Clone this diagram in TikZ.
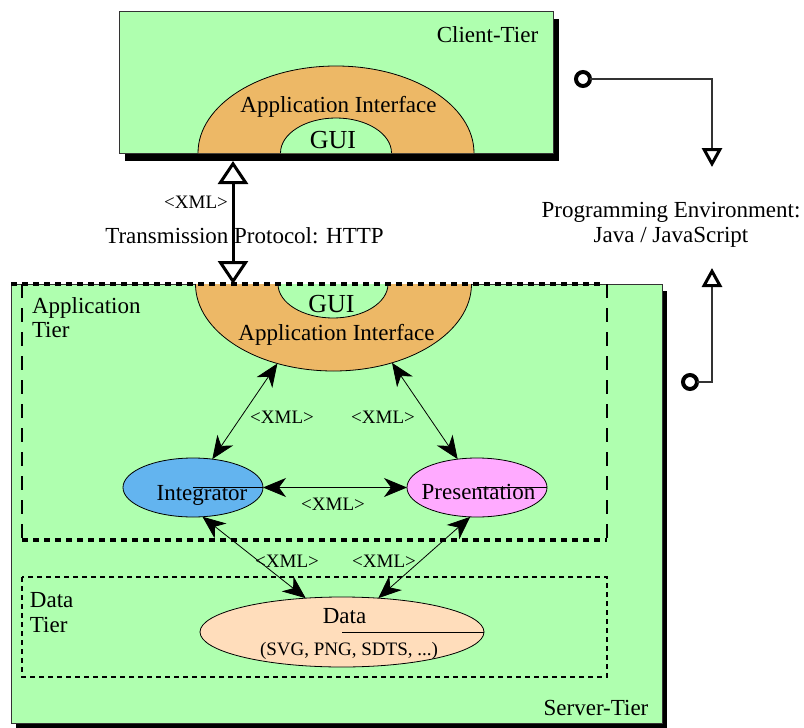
\documentclass[tikz,border=0pt]{standalone}
\usepackage{fontspec}
\setmainfont{Liberation Serif}
\usetikzlibrary{arrows.meta,shapes.geometric}
\definecolor{tiergreen}{HTML}{AFFFAF}
\definecolor{apporange}{HTML}{EDB866}
\definecolor{integblue}{HTML}{63B4EF}
\definecolor{prespink}{HTML}{FFAAFF}
\definecolor{datapeach}{HTML}{FFDDBB}
\definecolor{edgegray}{HTML}{333333}

\begin{document}
\begin{tikzpicture}[x=1pt,y=1pt,
  every node/.style={inner sep=0pt, outer sep=0pt},
  big/.style={font=\fontsize{23}{25}\selectfont},
  gui/.style={font=\fontsize{26}{28}\selectfont},
  small/.style={font=\fontsize{19}{22}\selectfont},
  tierbox/.style={rectangle, draw=edgegray, line width=0.8pt, fill=tiergreen, anchor=north west},
  blob/.style={ellipse, draw=black, line width=0.8pt},
  halfshape/.style={draw=black, line width=0.8pt},
  xmlflow/.style={line width=0.8pt, {Stealth[length=23pt,width=19pt,inset=7pt]}-{Stealth[length=23pt,width=19pt,inset=7pt]}},
  thickdash/.style={line width=3.5pt, dash pattern=on 6pt off 5pt},
  sidedash/.style={line width=1.6pt, dash pattern=on 14pt off 10pt},
  thindash/.style={line width=1.2pt, dash pattern=on 5pt off 4pt},
  port/.style={circle, draw=black, fill=white, line width=4pt, minimum size=14pt},
  envlink/.style={draw=edgegray, line width=1.1pt, -{Triangle[fill=white, color=black, line width=3pt, length=19pt, width=20pt]}},
  httplink/.style={line width=3pt, {Triangle[fill=white,length=23pt,width=30pt]}-{Triangle[fill=white,length=23pt,width=30pt]}},
]
\useasboundingbox (0,0) rectangle (804,-728);

% ---------------- client tier ----------------
\fill[black] (125,-19) rectangle (559,-161);
\node[tierbox, minimum width=434pt, minimum height=142pt] (client) at (119,-11) {};
\path[halfshape, fill=apporange] (474,-153) arc[start angle=0, end angle=180, x radius=138pt, y radius=87pt];
\path[halfshape, fill=tiergreen] (391.5,-153) arc[start angle=0, end angle=180, x radius=55.5pt, y radius=35pt];
\node[big, anchor=base] at (487.5,-42) {Client-Tier};
\node[big, anchor=base] at (338.5,-112) {Application Interface};
\node[gui, anchor=base] at (333,-148) {GUI};

% ---------------- server tier ----------------
\fill[black] (16,-291) rectangle (667,-728);
\node[tierbox, minimum width=651pt, minimum height=439pt] (server) at (11,-284) {};
\path[halfshape, fill=apporange] (471.5,-284) arc[start angle=0, end angle=-180, x radius=138pt, y radius=87pt];
\path[halfshape, fill=tiergreen] (388,-284) arc[start angle=0, end angle=-180, x radius=55pt, y radius=34pt];
\node[gui, anchor=base] at (331.5,-312) {GUI};
\node[big, anchor=base] at (336.5,-340) {Application Interface};

% application tier frame
\draw[thickdash] (11,-284) -- (604,-284);
\draw[sidedash] (22,-284) -- (22,-540);
\draw[sidedash] (607,-284) -- (607,-540);
\draw[thickdash] (22,-540) -- (607,-540);
\node[big, anchor=base west] at (32,-313) {Application};
\node[big, anchor=base west] at (32,-337) {Tier};

% data tier frame
\draw[thindash] (22,-577) rectangle (607,-677);
\node[big, anchor=base west] at (30,-607) {Data};
\node[big, anchor=base west] at (30,-632) {Tier};

\node[big, anchor=base] at (596,-715) {Server-Tier};

% ---------------- components ----------------
\node[blob, fill=integblue, minimum width=140pt, minimum height=59pt] (integ) at (193,-487.5) {};
\node[blob, fill=prespink, minimum width=140pt, minimum height=59pt] (pres) at (477,-487.5) {};
\node[blob, fill=datapeach, minimum width=284pt, minimum height=70pt] (data) at (342,-632) {};
\draw[line width=0.8pt] (integ.center) -- (integ.east);
\draw[line width=0.8pt] (pres.center) -- (pres.east);
\draw[line width=0.8pt] (data.center) -- (data.east);
\node[big, anchor=base] at (202,-500) {Integrator};
\node[big, anchor=base] at (478.5,-499) {Presentation};
\node[big, anchor=base] at (344.5,-623) {Data};
\node[small, anchor=base] at (349,-655) {(SVG, PNG, SDTS, ...)};

% points on the lower rim of the server-side interface
\coordinate (aiL) at (277.4,-363.5);
\coordinate (aiR) at (392,-362.8);

% ---------------- XML flows ----------------
\draw[xmlflow] (aiL) -- (integ);
\draw[xmlflow] (aiR) -- (pres);
\draw[xmlflow] (integ) -- (pres);
\draw[xmlflow] (integ.-72) -- (data.137);
\draw[xmlflow] (pres.-103) -- (data.43);
\node[small, anchor=base] at (282,-423) {<XML>};
\node[small, anchor=base] at (383,-423) {<XML>};
\node[small, anchor=base] at (333,-510) {<XML>};
\node[small, anchor=base] at (287,-567) {<XML>};
\node[small, anchor=base] at (384,-567) {<XML>};

% ---------------- client/server transmission ----------------
\coordinate (cBot) at (233,-161);
\coordinate (sTop) at (233,-284);
\draw[httplink] (cBot) -- (sTop);
\node[small, anchor=base] at (196,-208) {<XML>};
\node[big, anchor=base] at (244.5,-243) {Transmission Protocol: HTTP};

% ---------------- programming environment ----------------
\node[big, anchor=base] (penvA) at (671,-217) {Programming Environment:};
\node[big, anchor=base] (penvB) at (671,-242) {Java / JavaScript};
\node[port] (portC) at (583,-79) {};
\node[port] (portS) at (690,-382) {};
\coordinate (envTop) at (712,-167);
\coordinate (envBot) at (712,-268);
\draw[envlink] (portC) -| (envTop);
\draw[envlink] (portS) -| (envBot);
\end{tikzpicture}
\end{document}
